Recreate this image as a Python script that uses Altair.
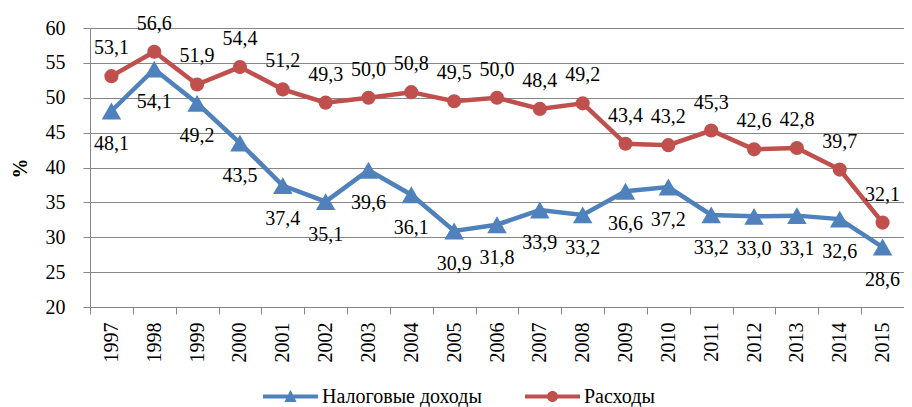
import altair as alt
import pandas as pd

years = [str(y) for y in range(1997, 2016)]
tax_revenue = [48.1, 54.1, 49.2, 43.5, 37.4, 35.1, 39.6, 36.1, 30.9, 31.8,
               33.9, 33.2, 36.6, 37.2, 33.2, 33.0, 33.1, 32.6, 28.6]
expenditure = [53.1, 56.6, 51.9, 54.4, 51.2, 49.3, 50.0, 50.8, 49.5, 50.0,
               48.4, 49.2, 43.4, 43.2, 45.3, 42.6, 42.8, 39.7, 32.1]
series_names = ["Налоговые доходы", "Расходы"]
colors = ["#4F81BD", "#C0504D"]
y_ticks = [20, 25, 30, 35, 40, 45, 50, 55, 60]

df = pd.DataFrame({
    "year": years + years,
    "value": tax_revenue + expenditure,
    "series": [series_names[0]] * len(years) + [series_names[1]] * len(years),
})

FONT = "Times New Roman, Liberation Serif, DejaVu Serif, serif"
GRID = "#868686"

# legend symbol paths (line + marker)
tri_path = ("M-1,-0.075 L-0.086,-0.075 L0,-0.25 L0.086,-0.075 L1,-0.075 L1,0.075 "
            "L0.159,0.075 L0.22,0.2 L-0.22,0.2 L-0.159,0.075 L-1,0.075 Z")
circ_path = ("M-1,-0.075 L1,-0.075 L1,0.075 L-1,0.075 Z "
             "M0.2,0 A0.2,0.2 0 1,1 -0.2,0 A0.2,0.2 0 1,1 0.2,0 Z")

base = alt.Chart(df).transform_calculate(
    label="replace(format(datum.value, '.1f'), '.', ',')"
)

x_enc = alt.X(
    "year:N", sort=years, title=None,
    scale=alt.Scale(type="band", paddingInner=0, paddingOuter=0),
    axis=alt.Axis(
        tickBand="extent", labelAngle=270, labelAlign="right", labelBaseline="middle",
        labelPadding=8, tickSize=7, domainColor=GRID, tickColor=GRID, grid=False,
        labelFont=FONT, labelFontSize=20, labelColor="black",
    ),
)
y_enc = alt.Y(
    "value:Q", title="%",
    scale=alt.Scale(domain=[20, 60], nice=False, zero=False),
    axis=alt.Axis(
        values=y_ticks, tickSize=7, labelPadding=18, domainColor=GRID, tickColor=GRID,
        gridColor=GRID, gridWidth=1.2, labelFont=FONT, labelFontSize=20, labelColor="black",
        titleFont=FONT, titleFontSize=20, titleFontWeight="bold", titleColor="black",
        titleX=-70, titleY=140, titleBaseline="middle", titleAngle=270,
    ),
)

lines = base.mark_line(strokeWidth=4.5).encode(
    x=x_enc, y=y_enc,
    color=alt.Color("series:N", scale=alt.Scale(domain=series_names, range=colors), legend=None),
)


def legend_for(path, lx):
    return alt.Legend(
        orient="none", legendX=lx, legendY=341, direction="horizontal", title=None,
        symbolType=path, symbolSize=3025, symbolStrokeWidth=0, labelFont=FONT,
        labelFontSize=20, labelColor="black", labelOffset=4, padding=0, labelLimit=400,
    )


points_tax = base.transform_filter(alt.datum.series == series_names[0]).mark_point(
    filled=True, opacity=1, shape="triangle-up", size=380
).encode(
    x=x_enc, y=y_enc,
    color=alt.Color("series:N", scale=alt.Scale(domain=[series_names[0]], range=[colors[0]]),
                    legend=legend_for(tri_path, 173)),
)

points_exp = base.transform_filter(alt.datum.series == series_names[1]).mark_point(
    filled=True, opacity=1, shape="circle", size=200
).encode(
    x=x_enc, y=y_enc,
    color=alt.Color("series:N", scale=alt.Scale(domain=[series_names[1]], range=[colors[1]]),
                    legend=legend_for(circ_path, 435)),
)

text_common = dict(font=FONT, fontSize=20, color="black", baseline="middle", align="center")

labels_tax = base.transform_filter(alt.datum.series == series_names[0]).mark_text(
    dy=33, **text_common
).encode(x=x_enc, y=y_enc, text="label:N")

labels_exp = base.transform_filter(alt.datum.series == series_names[1]).mark_text(
    dy=-28, **text_common
).encode(x=x_enc, y=y_enc, text="label:N")

chart = alt.layer(lines, points_tax, points_exp, labels_tax, labels_exp).resolve_scale(
    color="independent"
).resolve_legend(color="independent").properties(
    width=814, height=279,
    autosize=alt.AutoSizeParams(type="none"),
    padding={"left": 82, "top": 20, "right": 0, "bottom": 100},
).configure_view(stroke=None).configure(background="white")

chart.save("out.html", embed_options={"renderer": "svg", "actions": False})
